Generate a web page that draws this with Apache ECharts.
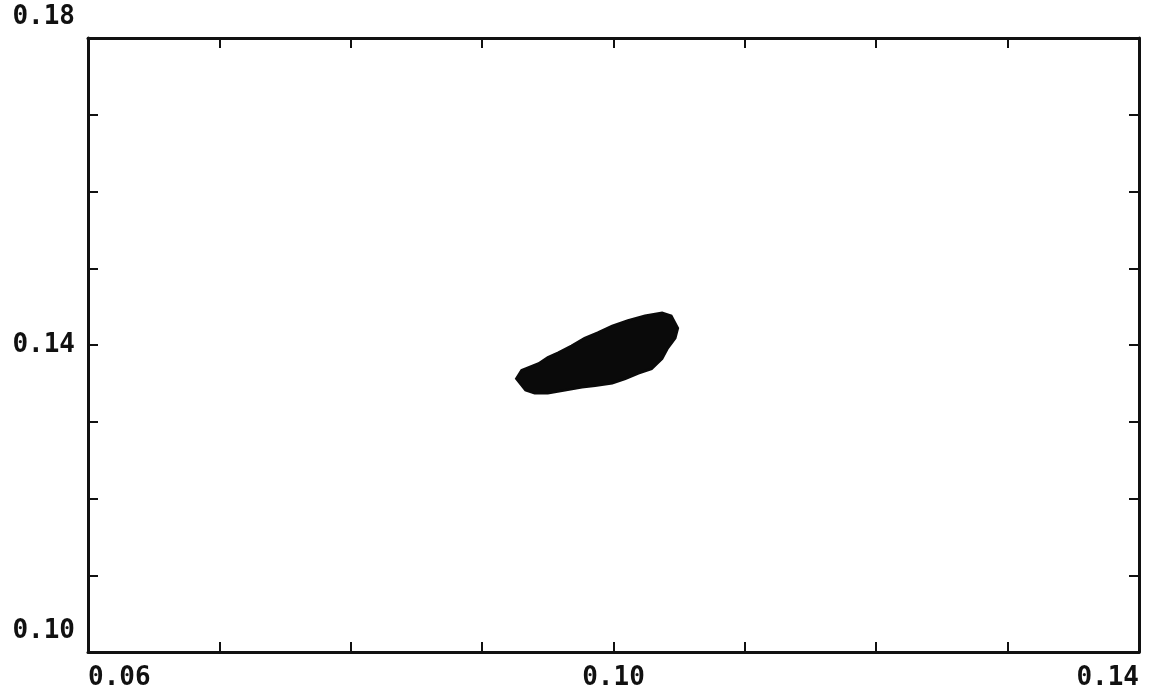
<!DOCTYPE html>
<html>
<head>
<meta charset="utf-8">
<script src="https://cdn.jsdelivr.net/npm/echarts@6/dist/echarts.min.js"></script>
<style>
    html, body { margin: 0; padding: 0; background: #fff; }
    #chart { width: 1165px; height: 699px; }
</style>
</head>
<body>
<div id="chart"></div>
<script>
// 轴刻度
const xTickLabels = ['0.06', '0.10', '0.14'];
const yTickLabels = ['0.10', '0.14', '0.18'];

// 点云外轮廓
const blobX = [0.0926, 0.0930, 0.0943, 0.0950, 0.0958, 0.0968, 0.0978, 0.0988, 0.0999, 0.1011,
    0.1024, 0.1037, 0.1044, 0.1049, 0.1047, 0.1041, 0.1037, 0.1029, 0.1019, 0.1009,
    0.0999, 0.0986, 0.0976, 0.0963, 0.0950, 0.0940, 0.0933];
const blobY = [0.1356, 0.1367, 0.1376, 0.1384, 0.1390, 0.1399, 0.1409, 0.1416, 0.1425, 0.1432,
    0.1438, 0.1442, 0.1438, 0.1422, 0.1409, 0.1395, 0.1382, 0.1369, 0.1363, 0.1356,
    0.1350, 0.1347, 0.1345, 0.1341, 0.1337, 0.1337, 0.1341];

const fontStyle = {
    color: '#111',
    fontFamily: 'DejaVu Sans Mono',
    fontWeight: 'bold',
    fontSize: 26
};

const myChart = echarts.init(document.getElementById('chart'));

const axisCommon = {
    type: 'value',
    interval: 0.01,
    axisLine: { show: true, lineStyle: { color: '#111', width: 3 } },
    axisTick: { show: true, inside: true, length: 10, lineStyle: { color: '#111', width: 2 } },
    splitLine: { show: false }
};

const option = {
    animation: false,
    grid: { left: 88, right: 26, top: 38, bottom: 47 },
    xAxis: [
        Object.assign({}, axisCommon, {
            min: 0.06, max: 0.14, position: 'bottom',
            axisLabel: Object.assign({}, fontStyle, {
                margin: 13,
                alignMinLabel: 'left',
                alignMaxLabel: 'right',
                formatter: function (v) {
                    const s = v.toFixed(2);
                    return xTickLabels.indexOf(s) >= 0 ? s : '';
                }
            })
        }),
        Object.assign({}, axisCommon, {
            min: 0.06, max: 0.14, position: 'top',
            axisLabel: { show: false }
        })
    ],
    yAxis: [
        Object.assign({}, axisCommon, {
            min: 0.10, max: 0.18, position: 'left',
            axisLabel: Object.assign({}, fontStyle, {
                margin: 13,
                padding: [0, 0, 8, 0],
                verticalAlignMinLabel: 'bottom',
                verticalAlignMaxLabel: 'bottom',
                formatter: function (v) {
                    const s = v.toFixed(2);
                    return yTickLabels.indexOf(s) >= 0 ? s : '';
                }
            })
        }),
        Object.assign({}, axisCommon, {
            min: 0.10, max: 0.18, position: 'right',
            axisLabel: { show: false }
        })
    ],
    series: [
        {
            // 点云区域
            type: 'custom',
            data: [[blobX[0], blobY[0]]],
            renderItem: function (params, api) {
                const pts = blobX.map((x, i) => api.coord([x, blobY[i]]));
                return {
                    type: 'polygon',
                    shape: { points: pts },
                    style: { fill: '#0a0a0a', stroke: '#0a0a0a', lineWidth: 2.5 }
                };
            }
        }
    ]
};
myChart.setOption(option);
</script>
</body>
</html>
